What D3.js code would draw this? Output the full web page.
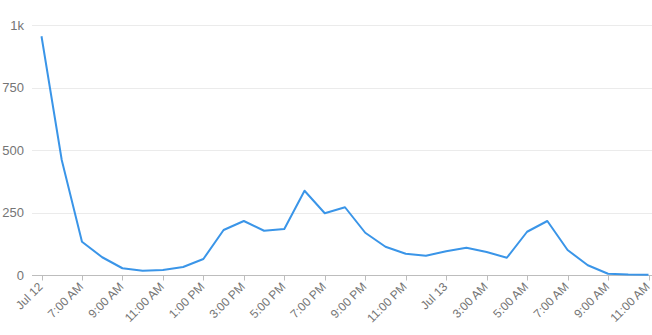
<!DOCTYPE html>
<html><head><meta charset="utf-8">
<script src="https://cdn.jsdelivr.net/npm/d3@7"></script>
<style>body{margin:0;background:#fff}svg{display:block}</style>
</head><body>
<svg id="c" width="652" height="335"></svg>
<script>
const values = [955,460,133,71,27,17,20,32,64,180,216,177,184,337,247,271,169,113,85,77,95,109,92,69,173,216,100,39,5,2,1];
const tickLabels = ["Jul 12","7:00 AM","9:00 AM","11:00 AM","1:00 PM","3:00 PM","5:00 PM","7:00 PM","9:00 PM","11:00 PM","Jul 13","3:00 AM","5:00 AM","7:00 AM","9:00 AM","11:00 AM"];
const yTicks = [0,250,500,750,1000];

const svg = d3.select("#c");
const x = d3.scaleLinear().domain([0, values.length-1]).range([41.5, 648.5]);
const y = d3.scaleLinear().domain([0,1000]).range([275, 25]);
const font = "Liberation Sans, Arial, sans-serif";

svg.append("g").selectAll("line").data(yTicks.filter(d=>d>0)).join("line")
  .attr("x1",32).attr("x2",652).attr("y1",d=>Math.round(y(d))+0.5).attr("y2",d=>Math.round(y(d))+0.5)
  .attr("stroke","#ebebeb").attr("stroke-width",1);

svg.append("g").selectAll("text").data(yTicks).join("text")
  .attr("x",24).attr("y",d=>y(d)).attr("dy","0.35em").attr("text-anchor","end")
  .attr("fill","#757575").attr("font-family",font).attr("font-size",13)
  .text(d=>d===1000?"1k":d);

const xg = svg.append("g").attr("transform","translate(0,275.5)");
xg.append("line").attr("x1",32).attr("x2",652).attr("stroke","#bdbdbd");
const tickIdx = tickLabels.map((_,i)=>i*2);
xg.selectAll("line.t").data(tickIdx).join("line").attr("class","t")
  .attr("x1",d=>Math.round(x(d))+0.5).attr("x2",d=>Math.round(x(d))+0.5).attr("y1",0).attr("y2",5)
  .attr("stroke","#bdbdbd");
xg.selectAll("text").data(tickIdx).join("text")
  .attr("transform",d=>`translate(${x(d)+2},${12}) rotate(-45)`)
  .attr("text-anchor","end").attr("fill","#757575").attr("font-family",font).attr("font-size",12)
  .text((d,i)=>tickLabels[i]);

svg.append("path").datum(values)
  .attr("d", d3.line().x((d,i)=>x(i)).y(d=>y(d)))
  .attr("fill","none").attr("stroke","#3a95e8").attr("stroke-width",2).attr("stroke-linejoin","round");
</script>
</body></html>
